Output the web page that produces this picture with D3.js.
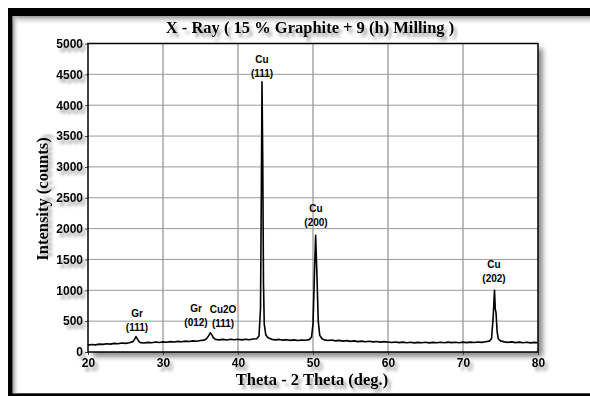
<!doctype html>
<html>
<head>
	<meta charset='utf-8'/>
	<script src="https://d3js.org/d3.v7.min.js"></script>
	<style>
		body { margin: 0; background: #fff; }
		svg { display: block; }
		.tick-lab { font-family: "Liberation Sans", Arial, sans-serif; font-weight: bold; font-size: 12px; }
		.ttl { font-family: "Liberation Serif", "Times New Roman", serif; font-weight: bold; font-size: 16.5px; }
		.peak { font-family: "Liberation Sans", Arial, sans-serif; font-weight: bold; font-size: 10px; }
	</style>
</head>
<body>
<div id="chart"></div>
<script>
// scan data (2 theta in deg., intensity in counts)
var twoTheta = [20.0,20.5,21.0,21.5,22.0,22.5,23.0,23.5,24.0,24.5,25.0,25.5,26.0,26.2,26.4,26.6,26.8,27.0,27.5,28.0,28.5,29.0,29.5,
	30.0,30.5,31.0,31.5,32.0,32.5,33.0,33.5,34.0,34.5,35.0,35.5,35.8,36.1,36.3,36.5,36.7,37.0,37.5,38.0,38.5,39.0,39.5,
	40.0,40.5,41.0,41.5,42.0,42.5,42.8,43.0,43.1,43.2,43.3,43.4,43.5,43.7,44.0,44.5,45.0,45.5,46.0,46.5,47.0,47.5,48.0,48.5,49.0,49.5,49.8,
	50.0,50.2,50.35,50.5,50.7,50.9,51.2,51.5,52.0,52.5,53.0,53.5,54.0,54.5,55.0,55.5,56.0,56.5,57.0,57.5,58.0,58.5,59.0,59.5,
	60.0,60.5,61.0,61.5,62.0,62.5,63.0,63.5,64.0,64.5,65.0,65.5,66.0,66.5,67.0,67.5,68.0,68.5,69.0,69.5,
	70.0,70.5,71.0,71.5,72.0,72.5,73.0,73.5,73.8,74.0,74.2,74.3,74.4,74.55,74.7,75.0,75.5,76.0,76.5,77.0,77.5,78.0,78.5,79.0,79.5,80.0];
var counts = [112,122,116,128,124,134,128,140,134,146,140,150,168,205,250,210,168,152,146,156,150,162,154,
	164,158,168,162,172,166,176,170,180,174,186,192,215,265,312,280,232,204,196,204,194,206,198,
	208,196,206,198,210,215,260,700,2400,4380,3100,1100,450,280,230,205,196,204,192,200,188,196,186,194,190,200,240,
	450,1300,1890,1350,500,270,215,196,186,194,180,188,176,184,172,180,168,176,166,174,164,170,160,168,
	162,154,162,152,160,150,158,148,156,150,158,148,156,150,158,150,160,152,158,150,
	160,152,160,154,162,156,166,176,215,520,1000,700,640,330,215,180,164,156,164,152,160,150,158,148,156,150];

// axis ticks
var xTicks = [20, 30, 40, 50, 60, 70, 80];
var yTicks = [0, 500, 1000, 1500, 2000, 2500, 3000, 3500, 4000, 4500, 5000];

// peak annotations: phase, plane, label anchor (deg., counts)
var peakPhase = ["Gr", "Gr", "Cu2O", "Cu", "Cu", "Cu"];
var peakPlane = ["(111)", "(012)", "(111)", "(111)", "(200)", "(202)"];
var peakTheta = [26.53, 34.4, 38.0, 43.2, 50.4, 74.13];
var peakLevel = [565, 645, 640, 4685, 2266, 1355];

var W = 590, H = 396;
var margin = {left: 88, right: 52, top: 43.5, bottom: 43.5};

var svg = d3.select("#chart").append("svg")
	.attr("width", W)
	.attr("height", H);

var defs = svg.append("defs");
var txtShadow = defs.append("filter").attr("id", "tshadow")
	.attr("x", "-20%").attr("y", "-40%").attr("width", "160%").attr("height", "200%");
txtShadow.append("feDropShadow").attr("dx", 3).attr("dy", 4).attr("stdDeviation", 1.6)
	.attr("flood-color", "#555").attr("flood-opacity", 0.55);
var boxShadow = defs.append("filter").attr("id", "bshadow")
	.attr("x", "-5%").attr("y", "-5%").attr("width", "115%").attr("height", "115%");
boxShadow.append("feDropShadow").attr("dx", 5).attr("dy", 5).attr("stdDeviation", 2.5)
	.attr("flood-color", "#444").attr("flood-opacity", 0.6);

var gTop = defs.append("linearGradient").attr("id", "gtop").attr("x1", 0).attr("y1", 0).attr("x2", 0).attr("y2", 1);
gTop.append("stop").attr("offset", "0%").attr("stop-color", "#9a9a9a");
gTop.append("stop").attr("offset", "100%").attr("stop-color", "#fff").attr("stop-opacity", 0);
var gLeft = defs.append("linearGradient").attr("id", "gleft").attr("x1", 0).attr("y1", 0).attr("x2", 1).attr("y2", 0);
gLeft.append("stop").attr("offset", "0%").attr("stop-color", "#9a9a9a");
gLeft.append("stop").attr("offset", "100%").attr("stop-color", "#fff").attr("stop-opacity", 0);

// outer frame
svg.append("rect").attr("x", 8).attr("y", 8).attr("width", 620).attr("height", 420).attr("fill", "#000");
svg.append("rect").attr("x", 12.7).attr("y", 16.3).attr("width", 620).attr("height", 377).attr("fill", "#fff");
svg.append("rect").attr("x", 12.7).attr("y", 16.3).attr("width", 620).attr("height", 9).attr("fill", "url(#gtop)");
svg.append("rect").attr("x", 12.7).attr("y", 16.3).attr("width", 7).attr("height", 377).attr("fill", "url(#gleft)");

var x = d3.scaleLinear().domain([20, 80]).range([margin.left, W - margin.right]);
var y = d3.scaleLinear().domain([0, 5000]).range([H - margin.bottom - 0.5, margin.top]);

// plot background with shadow
svg.append("rect")
	.attr("x", x(20)).attr("y", y(5000))
	.attr("width", x(80) - x(20)).attr("height", y(0) - y(5000))
	.attr("fill", "#fff")
	.attr("filter", "url(#bshadow)");

// grid
svg.append("g").selectAll("line").data(xTicks.slice(1, -1)).join("line")
	.attr("x1", d => x(d)).attr("x2", d => x(d))
	.attr("y1", y(0)).attr("y2", y(5000))
	.attr("stroke", "#7a7a7a").attr("stroke-width", 1);
svg.append("g").selectAll("line").data(yTicks.slice(1, -1)).join("line")
	.attr("x1", x(20)).attr("x2", x(80))
	.attr("y1", d => y(d)).attr("y2", d => y(d))
	.attr("stroke", "#9a9a9a").attr("stroke-width", 1);

// axes
var yAxis = svg.append("g")
	.attr("transform", "translate(" + x(20) + ",0)")
	.call(d3.axisLeft(y).tickValues(yTicks).tickSize(3).tickPadding(2).tickFormat(d3.format("d")));
var xAxis = svg.append("g")
	.attr("transform", "translate(0," + y(0) + ")")
	.call(d3.axisBottom(x).tickValues(xTicks).tickSize(3).tickPadding(3).tickFormat(d3.format("d")));
[xAxis, yAxis].forEach(function(a) {
	a.select(".domain").remove();
	a.selectAll("line").attr("stroke", "#444");
	a.selectAll("text").attr("class", "tick-lab").attr("fill", "#000").attr("filter", "url(#tshadow)");
});

// scan line
var line = d3.line().x((d, i) => x(twoTheta[i])).y(d => y(d));
svg.append("path")
	.datum(counts)
	.attr("d", line)
	.attr("fill", "none")
	.attr("stroke", "#000")
	.attr("stroke-width", 1.6)
	.attr("stroke-linejoin", "round");

// plot frame
svg.append("rect")
	.attr("x", x(20)).attr("y", y(5000))
	.attr("width", x(80) - x(20)).attr("height", y(0) - y(5000))
	.attr("fill", "none").attr("stroke", "#000").attr("stroke-width", 1.5);

// peak labels
var pk = svg.append("g").selectAll("g").data(peakPhase).join("g")
	.attr("transform", (d, i) => "translate(" + x(peakTheta[i]) + "," + y(peakLevel[i]) + ")");
pk.append("text").attr("class", "peak").attr("text-anchor", "middle").text(d => d);
pk.append("text").attr("class", "peak").attr("text-anchor", "middle").attr("y", 14).text((d, i) => peakPlane[i]);

// titles
svg.append("text").attr("class", "ttl")
	.attr("x", 310).attr("y", 33)
	.attr("text-anchor", "middle").attr("filter", "url(#tshadow)")
	.text("X - Ray ( 15 % Graphite + 9 (h) Milling )");
svg.append("text").attr("class", "ttl")
	.attr("x", 312).attr("y", 384.5)
	.attr("text-anchor", "middle").attr("filter", "url(#tshadow)")
	.text("Theta - 2 Theta (deg.)");
svg.append("text").attr("class", "ttl")
	.attr("transform", "translate(48,199) rotate(-90)")
	.attr("text-anchor", "middle").attr("filter", "url(#tshadow)")
	.text("Intensity (counts)");
</script>
</body>
</html>
